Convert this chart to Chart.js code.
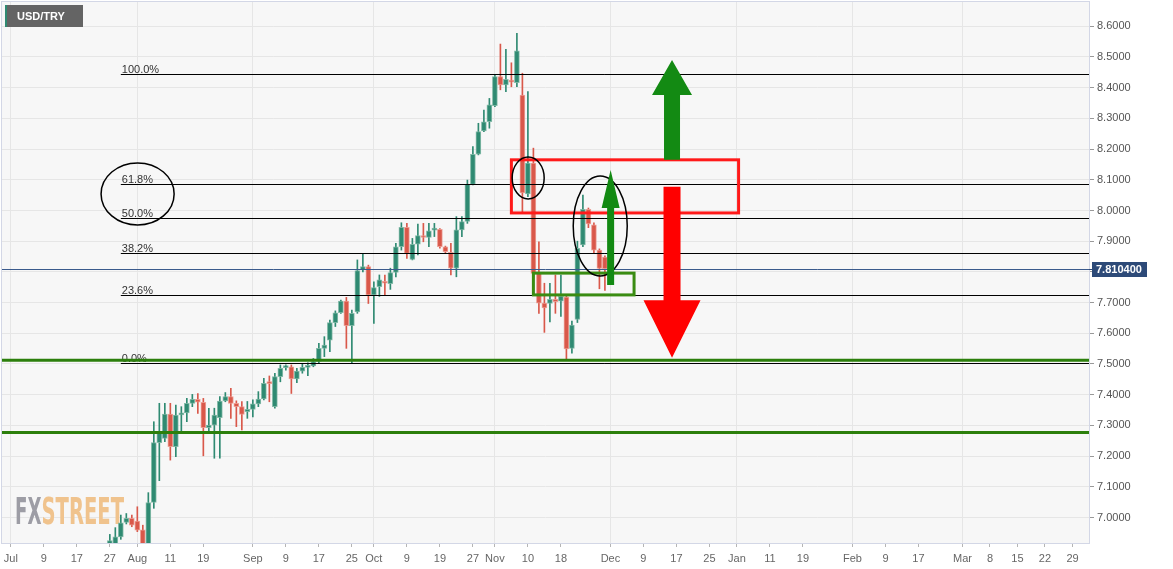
<!DOCTYPE html>
<html>
<head>
<meta charset="utf-8">
<script src="https://cdn.jsdelivr.net/npm/chart.js@4.4.1/dist/chart.umd.min.js"></script>
<style>
  html, body { margin: 0; padding: 0; background: #fff; }
  #wrap { width: 1173px; height: 569px; }
</style>
</head>
<body>
<div id="wrap"><canvas id="chart" width="1173" height="569"></canvas></div>
<script>
// USD/TRY daily candles
const axisStart = '2020-07-01';   // trading day 0 of the axis
const firstCandle = '2020-07-27';
const open  = [6.915, 6.905, 6.937, 6.984, 6.997, 6.988, 6.960, 6.912, 7.049, 7.244,
               7.258, 7.337, 7.231, 7.334, 7.341, 7.372, 7.385, 7.375, 7.293, 7.301,
               7.325, 7.380, 7.394, 7.372, 7.361, 7.345, 7.352, 7.370, 7.386, 7.440,
               7.361, 7.459, 7.488, 7.491, 7.451, 7.477, 7.489, 7.494, 7.508, 7.551,
               7.578, 7.635, 7.667, 7.705, 7.625, 7.670, 7.806, 7.817, 7.725, 7.752,
               7.766, 7.762, 7.798, 7.882, 7.945, 7.841, 7.890, 7.918, 7.912, 7.936,
               7.939, 7.882, 7.864, 7.812, 7.937, 7.964, 8.085, 8.183, 8.259, 8.289,
               8.341, 8.436, 8.409, 8.422, 8.416, 8.376, 8.054, 8.154, 7.795, 7.698,
               7.697, 7.711, 7.705, 7.718, 7.551, 7.645, 7.888, 8.004, 7.953, 7.871,
               7.848];
const high  = [6.945, 6.967, 7.008, 7.013, 7.008, 7.035, 6.975, 7.081, 7.312, 7.372,
               7.372, 7.372, 7.366, 7.361, 7.388, 7.401, 7.404, 7.388, 7.356, 7.356,
               7.394, 7.407, 7.421, 7.380, 7.378, 7.378, 7.383, 7.410, 7.453, 7.461,
               7.470, 7.497, 7.497, 7.497, 7.486, 7.502, 7.504, 7.518, 7.567, 7.589,
               7.643, 7.673, 7.708, 7.717, 7.676, 7.839, 7.860, 7.822, 7.768, 7.790,
               7.790, 7.812, 7.893, 7.960, 7.958, 7.909, 7.956, 7.958, 7.958, 7.958,
               7.941, 7.884, 7.893, 7.980, 7.980, 8.099, 8.208, 8.284, 8.327, 8.365,
               8.441, 8.542, 8.525, 8.481, 8.577, 8.447, 8.387, 8.203, 7.898, 7.763,
               7.763, 7.790, 7.790, 7.726, 7.640, 7.900, 8.050, 8.008, 7.960, 7.875,
               7.852];
const low   = [6.900, 6.900, 6.929, 6.979, 6.970, 6.954, 6.900, 6.900, 7.030, 7.120,
               7.247, 7.187, 7.198, 7.280, 7.312, 7.361, 7.339, 7.201, 7.280, 7.193,
               7.193, 7.377, 7.323, 7.296, 7.285, 7.323, 7.328, 7.361, 7.383, 7.377,
               7.356, 7.442, 7.480, 7.404, 7.439, 7.470, 7.462, 7.491, 7.502, 7.524,
               7.540, 7.622, 7.665, 7.551, 7.502, 7.665, 7.800, 7.697, 7.632, 7.720,
               7.725, 7.743, 7.784, 7.871, 7.844, 7.839, 7.855, 7.898, 7.882, 7.915,
               7.877, 7.860, 7.790, 7.784, 7.915, 7.958, 8.083, 8.181, 8.257, 8.268,
               8.338, 8.393, 8.387, 8.403, 8.403, 7.996, 8.045, 7.780, 7.665, 7.603,
               7.637, 7.665, 7.655, 7.511, 7.535, 7.635, 7.882, 7.944, 7.860, 7.745,
               7.740];
const close = [6.925, 6.937, 6.983, 6.997, 6.975, 6.959, 6.912, 7.049, 7.244, 7.274,
               7.337, 7.231, 7.334, 7.341, 7.372, 7.385, 7.376, 7.293, 7.301, 7.334,
               7.379, 7.394, 7.372, 7.361, 7.336, 7.352, 7.370, 7.386, 7.437, 7.436,
               7.459, 7.486, 7.491, 7.451, 7.477, 7.489, 7.494, 7.508, 7.551, 7.562,
               7.635, 7.667, 7.705, 7.625, 7.665, 7.804, 7.817, 7.725, 7.749, 7.774,
               7.763, 7.798, 7.882, 7.945, 7.860, 7.890, 7.918, 7.912, 7.934, 7.937,
               7.882, 7.866, 7.812, 7.937, 7.964, 8.085, 8.183, 8.257, 8.289, 8.344,
               8.436, 8.409, 8.427, 8.418, 8.520, 8.057, 8.154, 7.795, 7.698, 7.683,
               7.711, 7.703, 7.720, 7.549, 7.627, 7.877, 8.004, 7.956, 7.871, 7.811,
               7.8104];

const yTicks = [7.0, 7.1, 7.2, 7.3, 7.4, 7.5, 7.6, 7.7, 7.8, 7.9, 8.0, 8.1, 8.2, 8.3, 8.4, 8.5, 8.6];
const tickDates = ['2020-07-01', '2020-07-09', '2020-07-17', '2020-07-27', '2020-08-01', '2020-08-11',
                   '2020-08-19', '2020-09-01', '2020-09-09', '2020-09-17', '2020-09-25', '2020-10-01',
                   '2020-10-09', '2020-10-19', '2020-10-27', '2020-11-01', '2020-11-10', '2020-11-18',
                   '2020-12-01', '2020-12-09', '2020-12-17', '2020-12-25', '2021-01-01', '2021-01-11',
                   '2021-01-19', '2021-02-01', '2021-02-09', '2021-02-17', '2021-03-01', '2021-03-08',
                   '2021-03-15', '2021-03-22', '2021-03-29'];
const monthNames = ['Jan', 'Feb', 'Mar', 'Apr', 'May', 'Jun', 'Jul', 'Aug', 'Sep', 'Oct', 'Nov', 'Dec'];

// drawing levels
const fibHigh = 8.445;
const fibLow = 7.503;
const fibLevels = [0, 0.236, 0.382, 0.5, 0.618, 1];
const supportLevels = [7.512, 7.277];
const lastPrice = 7.8104;

const GREEN = '#2f8a72';
const RED = '#d9584a';

// count weekdays from axisStart up to (not including) the date
function tradingIndex(dateStr) {
  const d1 = new Date(dateStr + 'T00:00:00Z');
  let n = 0;
  for (let d = new Date(axisStart + 'T00:00:00Z'); d < d1; d.setUTCDate(d.getUTCDate() + 1)) {
    const wd = d.getUTCDay();
    if (wd !== 0 && wd !== 6) n++;
  }
  return n;
}

function tickLabel(dateStr) {
  const [, m, d] = dateStr.split('-').map(Number);
  return d === 1 ? monthNames[m - 1] : String(d);
}

const first = tradingIndex(firstCandle);
const xs = open.map((_, k) => first + k);
const isUp = close.map((c, k) => c >= open[k]);
const fill = isUp.map(u => (u ? GREEN : RED));
const edge = isUp.map(u => (u ? 'rgba(120,180,160,0.9)' : 'rgba(235,150,140,0.9)'));

// annotation layout (x in trading days, y in price)
const notes = {
  fibFrom: 20,
  redBox: { x0: 91, x1: 132.3, y0: 8.165, y1: 7.992 },
  greenBox: { x0: 95, x1: 113.3, y0: 7.796, y1: 7.725 },
  ellipses: [
    { x: 94.05, y: 8.106, rx: 2.91, ry: 0.0684 },
    { x: 107.15, y: 7.9495, rx: 4.91, ry: 0.163 },
    { x: 23.05, y: 8.054, rx: 6.64, ry: 0.101 },
  ],
  arrows: [
    { x: 109.04, tail: 7.757, base: 8.008, tip: 8.132, shaft: 7, head: 18, color: '#138a13' },
    { x: 120.2, tail: 8.165, base: 8.376, tip: 8.490, shaft: 16, head: 40, color: '#138a13' },
    { x: 120.2, tail: 8.077, base: 7.708, tip: 7.520, shaft: 17, head: 57, color: '#ff0000' },
  ],
};

const FONT = 'Arial, "Liberation Sans", sans-serif';

const overlay = {
  id: 'overlay',
  beforeDraw(chart) {
    const { ctx, chartArea: a } = chart;
    ctx.save();
    ctx.fillStyle = '#f7f7f7';
    ctx.fillRect(a.left, a.top, a.width, a.height);
    ctx.restore();
  },
  beforeDatasetsDraw(chart) {
    // FXSTREET watermark
    const { ctx } = chart;
    ctx.save();
    ctx.font = 'bold 37px "Liberation Sans Narrow", "DejaVu Sans Condensed", sans-serif';
    ctx.textBaseline = 'alphabetic';
    const parts = [['FX', 15, 41.5, '#9d9da5'], ['STREET', 41.5, 124, '#f0c38d']];
    parts.forEach(([t, x0, x1, c]) => {
      const w = ctx.measureText(t).width;
      ctx.save();
      ctx.translate(x0, 523.5);
      ctx.scale((x1 - x0) / w, 1);
      ctx.fillStyle = c;
      ctx.fillText(t, 0, 0);
      ctx.restore();
    });
    ctx.restore();
  },
  afterDatasetsDraw(chart) {
    const { ctx, chartArea: a } = chart;
    const xS = chart.scales.x, yS = chart.scales.y;
    const px = v => xS.getPixelForValue(v);
    const py = v => yS.getPixelForValue(v);
    ctx.save();
    ctx.beginPath();
    ctx.rect(a.left, a.top, a.width, a.height);
    ctx.clip();

    // last price line
    ctx.strokeStyle = '#3a5a8c';
    ctx.lineWidth = 1;
    let y = Math.round(py(lastPrice)) + 0.5;
    ctx.beginPath(); ctx.moveTo(a.left, y); ctx.lineTo(a.right, y); ctx.stroke();

    // fibonacci retracement
    ctx.font = '11px ' + FONT;
    ctx.fillStyle = '#333';
    ctx.textBaseline = 'alphabetic';
    const fx = px(notes.fibFrom);
    fibLevels.forEach(p => {
      const yy = Math.round(py(fibLow + p * (fibHigh - fibLow))) + 0.5;
      ctx.strokeStyle = '#000';
      ctx.beginPath(); ctx.moveTo(fx, yy); ctx.lineTo(a.right, yy); ctx.stroke();
      ctx.fillText((p * 100).toFixed(1) + '%', fx + 1, yy - 2);
    });

    // support lines
    ctx.strokeStyle = '#2c7f0c';
    ctx.lineWidth = 3;
    supportLevels.forEach(v => {
      const yy = py(v);
      ctx.beginPath(); ctx.moveTo(a.left, yy); ctx.lineTo(a.right, yy); ctx.stroke();
    });

    // boxes
    const box = (b, color) => {
      ctx.strokeStyle = color;
      ctx.lineWidth = 3;
      ctx.strokeRect(px(b.x0), py(b.y0), px(b.x1) - px(b.x0), py(b.y1) - py(b.y0));
    };
    box(notes.redBox, '#ff1a1a');
    box(notes.greenBox, '#3a8c12');

    // ellipses
    ctx.strokeStyle = '#000';
    ctx.lineWidth = 1.5;
    notes.ellipses.forEach(e => {
      const cx = px(e.x), cy = py(e.y);
      const rx = px(e.x + e.rx) - cx, ry = cy - py(e.y + e.ry);
      ctx.beginPath(); ctx.ellipse(cx, cy, rx, ry, 0, 0, Math.PI * 2); ctx.stroke();
    });

    // arrows
    notes.arrows.forEach(ar => {
      const cx = px(ar.x), yt = py(ar.tail), yb = py(ar.base), yp = py(ar.tip);
      ctx.fillStyle = ar.color;
      ctx.beginPath();
      ctx.moveTo(cx - ar.shaft / 2, yt);
      ctx.lineTo(cx - ar.shaft / 2, yb);
      ctx.lineTo(cx - ar.head / 2, yb);
      ctx.lineTo(cx, yp);
      ctx.lineTo(cx + ar.head / 2, yb);
      ctx.lineTo(cx + ar.shaft / 2, yb);
      ctx.lineTo(cx + ar.shaft / 2, yt);
      ctx.closePath();
      ctx.fill();
    });
    ctx.restore();
  },
  afterDraw(chart) {
    const { ctx, chartArea: a } = chart;
    const y = Math.round(chart.scales.y.getPixelForValue(lastPrice));
    ctx.save();
    // plot frame
    ctx.strokeStyle = '#d3d7e6';
    ctx.lineWidth = 1;
    ctx.strokeRect(a.left - 0.5, a.top - 0.5, a.width + 1, a.height + 1);

    // price tag on the axis
    ctx.strokeStyle = '#2d4a78';
    ctx.beginPath(); ctx.moveTo(a.right, y + 0.5); ctx.lineTo(a.right + 4, y + 0.5); ctx.stroke();
    ctx.fillStyle = '#2d4a78';
    ctx.fillRect(a.right + 3, y - 7, 55, 15);
    ctx.fillStyle = '#fff';
    ctx.font = 'bold 11px ' + FONT;
    ctx.textBaseline = 'middle';
    ctx.fillText(lastPrice.toFixed(6), a.right + 7, y + 1);

    // symbol tag
    ctx.fillStyle = '#646464';
    ctx.fillRect(5, 5, 78, 22);
    ctx.fillStyle = GREEN;
    ctx.fillRect(5, 5, 2, 22);
    ctx.fillStyle = '#fff';
    ctx.fillText('USD/TRY', 17, 16.5);
    ctx.restore();
  },
};

new Chart(document.getElementById('chart'), {
  type: 'bar',
  data: {
    datasets: [
      {
        data: xs.map((x, k) => ({ x, y: [low[k], high[k]] })),
        backgroundColor: fill,
        barThickness: 1,
        grouped: false,
        order: 1,
      },
      {
        data: xs.map((x, k) => ({ x, y: [Math.min(open[k], close[k]), Math.max(open[k], close[k])] })),
        backgroundColor: fill,
        borderColor: edge,
        borderWidth: 1,
        borderSkipped: false,
        barThickness: 5,
        minBarLength: 2,
        grouped: false,
        order: 0,
      },
    ],
  },
  options: {
    responsive: false,
    animation: false,
    layout: { padding: { left: 2, top: 2, right: 0, bottom: 0 } },
    plugins: { legend: { display: false }, tooltip: { enabled: false } },
    scales: {
      x: {
        type: 'linear',
        min: -1.6,
        max: 196,
        offset: false,
        afterBuildTicks: s => { s.ticks = tickDates.map(d => ({ value: tradingIndex(d) })); },
        afterFit: s => { s.height = 26; s.paddingLeft = 0; s.paddingRight = 0; },
        grid: {
          offset: false,
          color: c => (c.index !== undefined && tickDates[c.index] && tickDates[c.index].endsWith('-01') ? '#e6e6e6' : 'rgba(0,0,0,0)'),
          tickColor: '#b5b5b5',
          tickLength: 4,
        },
        border: { display: false },
        ticks: {
          autoSkip: false,
          maxRotation: 0,
          color: '#666',
          padding: 5,
          font: { family: FONT, size: 11 },
          callback: (v, i) => tickLabel(tickDates[i]),
        },
      },
      y: {
        position: 'right',
        min: 6.917,
        max: 8.679,
        afterBuildTicks: s => { s.ticks = yTicks.map(v => ({ value: v })); },
        afterFit: s => { s.width = 84; s.paddingTop = 0; s.paddingBottom = 0; },
        grid: { color: '#e6e6e6', tickColor: '#999', tickLength: 5 },
        border: { display: false },
        ticks: {
          color: '#555',
          padding: 3,
          font: { family: FONT, size: 11 },
          callback: v => Number(v).toFixed(4),
        },
      },
    },
  },
  plugins: [overlay],
});
</script>
</body>
</html>
